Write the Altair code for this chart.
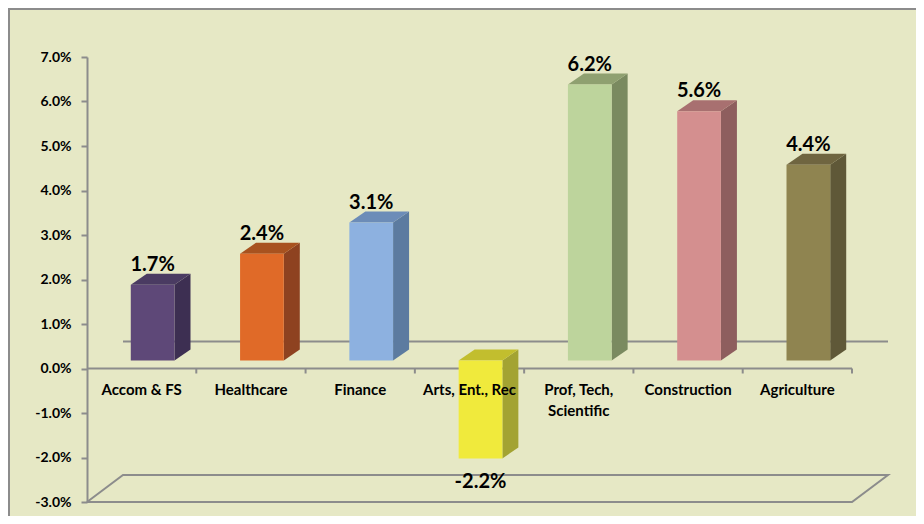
import altair as alt
import pandas as pd

# ---- data ----
categories = ["Accom & FS", "Healthcare", "Finance", "Arts, Ent., Rec",
              "Prof, Tech,\nScientific", "Construction", "Agriculture"]
values = [1.7, 2.4, 3.1, -2.2, 6.2, 5.6, 4.4]
y_ticks = [-3, -2, -1, 0, 1, 2, 3, 4, 5, 6, 7]

# ---- styling ----
front_colors = ["#5E4878", "#E06A28", "#8DB1E0", "#F0EA3C", "#BDD49C", "#D48F8F", "#8F8450"]
side_colors = ["#3D2F52", "#8E4220", "#5C7BA0", "#A3A332", "#7A8A60", "#8E5E5E", "#5F5838"]
top_colors = ["#4A3B62", "#A8521F", "#6C8CB8", "#C2BE2E", "#8FA070", "#A87070", "#6F6540"]
BG = "#E6E8C5"
GRID = "#8C8C8C"
FONT = "Lato"

W, H = 765, 445
N = len(categories)
Y_MIN, Y_MAX = -3, 7
PX_X = W / N
PX_Y = H / (Y_MAX - Y_MIN)
BAR_FX, BAR_FY = 11 / PX_X, 8 / PX_Y      # bar front-face shift into depth
DEP_X, DEP_Y = 16 / PX_X, 11 / PX_Y       # bar depth
WALL_X, WALL_Y = 36 / PX_X, 27 / PX_Y     # back wall shift
BAR_W = 0.4

xs = alt.Scale(domain=[0, N], nice=False, zero=False)
ys = alt.Scale(domain=[Y_MIN, Y_MAX], nice=False, zero=False)

# ---- tables built from the arrays ----
front, side, top = [], [], []
for i, (c, v) in enumerate(zip(categories, values)):
    left = i + 0.5 - BAR_W / 2 + BAR_FX
    right = i + 0.5 + BAR_W / 2 + BAR_FX
    hi = max(v, 0) + BAR_FY
    lo = min(v, 0) + BAR_FY
    front.append(dict(cat=c, x=left, x2=right, y=lo, y2=hi, col=front_colors[i],
                      cx=(left + right) / 2, txt=f"{v:.1f}%",
                      ly=(hi + DEP_Y) if v >= 0 else lo, pos=v >= 0))
    side.append(dict(cat=c, x=right, y=hi, y2=lo, col=side_colors[i]))
    side.append(dict(cat=c, x=right + DEP_X, y=hi + DEP_Y, y2=lo + DEP_Y, col=side_colors[i]))
    top.append(dict(cat=c, y=hi, x=left, x2=right, col=top_colors[i]))
    top.append(dict(cat=c, y=hi + DEP_Y, x=left + DEP_X, x2=right + DEP_X, col=top_colors[i]))
front = pd.DataFrame(front)
side = pd.DataFrame(side)
top = pd.DataFrame(top)

floor = pd.DataFrame(dict(
    x=[0, N, N + WALL_X, WALL_X, 0],
    y=[Y_MIN, Y_MIN, Y_MIN + WALL_Y, Y_MIN + WALL_Y, Y_MIN],
    o=[0, 1, 2, 3, 4]))
back_zero = pd.DataFrame(dict(x=[WALL_X], x2=[N + WALL_X], y=[WALL_Y]))
front_zero = pd.DataFrame(dict(x=[0], x2=[N], y=[0]))
ticks = pd.DataFrame(dict(x=list(range(1, N + 1)), y=[0] * N, y2=[-5 / PX_Y] * N))
cat_lab = pd.DataFrame(dict(x=[i + 0.5 for i in range(N)], y=[0] * N, t=categories))

# ---- layers ----
border = alt.Chart(pd.DataFrame({"a": [0]})).mark_rect(
    fill=None, stroke=GRID, strokeWidth=2
).encode(x=alt.value(-78), x2=alt.value(900), y=alt.value(-48), y2=alt.value(600))

floor_l = alt.Chart(floor).mark_line(color=GRID, strokeWidth=2).encode(
    x=alt.X("x:Q", scale=xs, axis=None),
    y=alt.Y("y:Q", scale=ys, axis=alt.Axis(
        values=y_ticks,
        labelExpr="(datum.value < 0 ? '-' : '') + format(abs(datum.value), '.1f') + '%'",
        domainColor=GRID, domainWidth=2, tickColor=GRID, tickWidth=2, tickSize=6,
        labelFont=FONT, labelFontWeight="bold", labelFontSize=14, labelColor="black",
        labelPadding=10, grid=False, title=None)),
    order="o:Q")

back_l = alt.Chart(back_zero).mark_rule(color=GRID, strokeWidth=2).encode(
    x=alt.X("x:Q", scale=xs), x2="x2:Q", y=alt.Y("y:Q", scale=ys))
front_l = alt.Chart(front_zero).mark_rule(color=GRID, strokeWidth=2).encode(
    x=alt.X("x:Q", scale=xs), x2="x2:Q", y=alt.Y("y:Q", scale=ys))
ticks_l = alt.Chart(ticks).mark_rule(color=GRID, strokeWidth=2).encode(
    x=alt.X("x:Q", scale=xs), y=alt.Y("y:Q", scale=ys), y2="y2:Q")

side_l = alt.Chart(side).mark_area(orient="vertical").encode(
    x=alt.X("x:Q", scale=xs), y=alt.Y("y:Q", scale=ys), y2="y2:Q",
    detail="cat:N", color=alt.Color("col:N", scale=None))
top_l = alt.Chart(top).mark_area(orient="horizontal").encode(
    y=alt.Y("y:Q", scale=ys), x=alt.X("x:Q", scale=xs), x2="x2:Q",
    detail="cat:N", color=alt.Color("col:N", scale=None))
front_b = alt.Chart(front).mark_rect().encode(
    x=alt.X("x:Q", scale=xs), x2="x2:Q", y=alt.Y("y:Q", scale=ys), y2="y2:Q",
    color=alt.Color("col:N", scale=None))

val_pos = alt.Chart(front[front.pos]).mark_text(
    font=FONT, fontWeight="bold", fontSize=20, color="black", baseline="alphabetic", dy=-3
).encode(x=alt.X("cx:Q", scale=xs), y=alt.Y("ly:Q", scale=ys), text="txt:N")
val_neg = alt.Chart(front[~front.pos]).mark_text(
    font=FONT, fontWeight="bold", fontSize=20, color="black", baseline="alphabetic", dy=30
).encode(x=alt.X("cx:Q", scale=xs), y=alt.Y("ly:Q", scale=ys), text="txt:N")

cat_l = alt.Chart(cat_lab).mark_text(
    font=FONT, fontWeight="bold", fontSize=15, color="black", baseline="alphabetic",
    dy=26, lineBreak="\n", lineHeight=21
).encode(x=alt.X("x:Q", scale=xs), y=alt.Y("y:Q", scale=ys), text="t:N")

chart = alt.layer(
    border, floor_l, back_l, front_l, ticks_l, side_l, top_l, front_b, cat_l, val_pos, val_neg
).properties(
    width=W, height=H,
    autosize=alt.AutoSizeParams(type="none"),
    padding={"left": 79, "top": 49, "right": 64, "bottom": 14},
    background=BG,
).configure_view(stroke=None)

chart.save("out.html", embed_options={"renderer": "svg", "actions": False})
